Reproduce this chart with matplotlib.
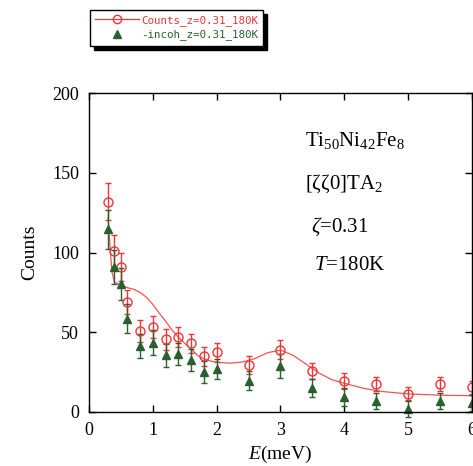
import matplotlib.pyplot as plt
import numpy as np
from matplotlib.lines import Line2D

plt.rcParams['font.family'] = 'Liberation Serif'
plt.rcParams['mathtext.fontset'] = 'custom'
plt.rcParams['mathtext.rm'] = 'Liberation Serif'
plt.rcParams['mathtext.it'] = 'Liberation Serif:italic'

# measured spectrum, zeta = 0.31, T = 180 K
energy = [0.3, 0.4, 0.5, 0.6, 0.8, 1.0, 1.2, 1.4, 1.6, 1.8, 2.0, 2.5, 3.0, 3.5, 4.0, 4.5, 5.0, 5.5, 6.0]
counts = [132, 101, 91, 69, 51, 53.5, 45.5, 47, 43, 35, 37.5, 29.5, 39, 25.5, 19.5, 17.5, 11.5, 17.5, 15.5]
counts_err = [11.5, 10, 9, 7.5, 7, 7, 6.5, 6.5, 6, 6, 6, 5.5, 6, 5, 5, 4.5, 4, 4.5, 4]
incoh = [114.5, 91, 80.5, 58.5, 41.5, 43.5, 35.5, 36.5, 32.5, 25, 27, 19.5, 29, 15, 9.5, 7, 1.7, 7, 5.5]
incoh_err = [12, 10.5, 10, 9, 7.5, 7.7, 7, 7, 7, 7, 6.5, 6, 7.5, 5.5, 5.5, 5, 5, 5, 5]

# fitted curve
fit_e = [0.3, 0.33, 0.36, 0.4, 0.5, 0.6, 0.7, 0.8, 0.9, 1.0, 1.1, 1.2, 1.3, 1.4, 1.5, 1.6, 1.7,
         1.8, 1.9, 2.0, 2.2, 2.4, 2.6, 2.8, 3.0, 3.2, 3.4, 3.6, 3.8, 4.0, 4.3, 4.6, 5.0, 5.5, 6.0]
fit_c = [122, 104, 88, 81.5, 79.5, 78, 77, 75, 72, 67.5, 62, 57, 51.5, 47, 43, 39.5, 35.5,
         33.3, 32, 31.2, 30.6, 31.3, 33.5, 37.2, 38.8, 35.5, 30, 24.5, 20.3, 18, 14.8, 12.8, 11.3, 10.5, 10.2]

red = '#f03535'
green = '#2a6030'

fig = plt.figure(figsize=(4.73, 4.66), dpi=100)
ax = fig.add_axes([0.188, 0.116, 0.810, 0.684])

ax.plot(fit_e, fit_c, color=red, lw=0.9, alpha=0.85)
ax.errorbar(energy, counts, yerr=counts_err, fmt='o', mfc='none', mec=red, ms=6.5, mew=1.0,
            ecolor=red, elinewidth=1.0, capsize=2.5, capthick=1.0, clip_on=False)
ax.errorbar(energy, incoh, yerr=incoh_err, fmt='^', mfc=green, mec=green, ms=5.5,
            ecolor=green, elinewidth=1.0, capsize=2.5, capthick=1.0, clip_on=False)

ax.set_xlim(0, 6)
ax.set_ylim(0, 200)
ax.set_xticks(np.arange(0, 7, 1))
ax.set_yticks(np.arange(0, 201, 50))
ax.tick_params(direction='in', length=5, width=1, top=True, right=True, labelsize=13, pad=7)
for s in ax.spines.values():
    s.set_linewidth(1.0)

ax.set_xlabel(r'$E$(meV)', fontsize=14, labelpad=4)
ax.set_ylabel('Counts', fontsize=14, labelpad=10)

ax.text(3.39, 170.5, r'Ti$_{50}$Ni$_{42}$Fe$_{8}$', fontsize=15, va='center')
ax.text(3.39, 143, r'[ζζ0]TA$_2$', fontsize=15, va='center')
ax.text(3.48, 116, r'$\zeta$=0.31', fontsize=15, va='center')
ax.text(3.52, 92, r'$T$=180K', fontsize=15, va='center')

handles = [
    Line2D([], [], color=red, lw=0.9, marker='o', mfc='none', mec=red, ms=6),
    Line2D([], [], color=green, lw=0, marker='^', mfc=green, mec=green, ms=5.5),
]
leg = fig.legend(handles, ['Counts_z=0.31_180K', '-incoh_z=0.31_180K'],
                 loc='upper left', bbox_to_anchor=(0.19, 0.979), borderaxespad=0,
                 prop={'family': 'DejaVu Sans Mono', 'size': 7.8}, fancybox=False,
                 edgecolor='black', framealpha=1, handlelength=4.0, handletextpad=0.2,
                 labelspacing=0.3, borderpad=0.5,
                 shadow={'color': 'black', 'alpha': 1, 'ox': 3, 'oy': -3})
leg.get_frame().set_linewidth(1.0)
leg.get_texts()[0].set_color(red)
leg.get_texts()[1].set_color(green)

fig.savefig('out.png', dpi=100)
